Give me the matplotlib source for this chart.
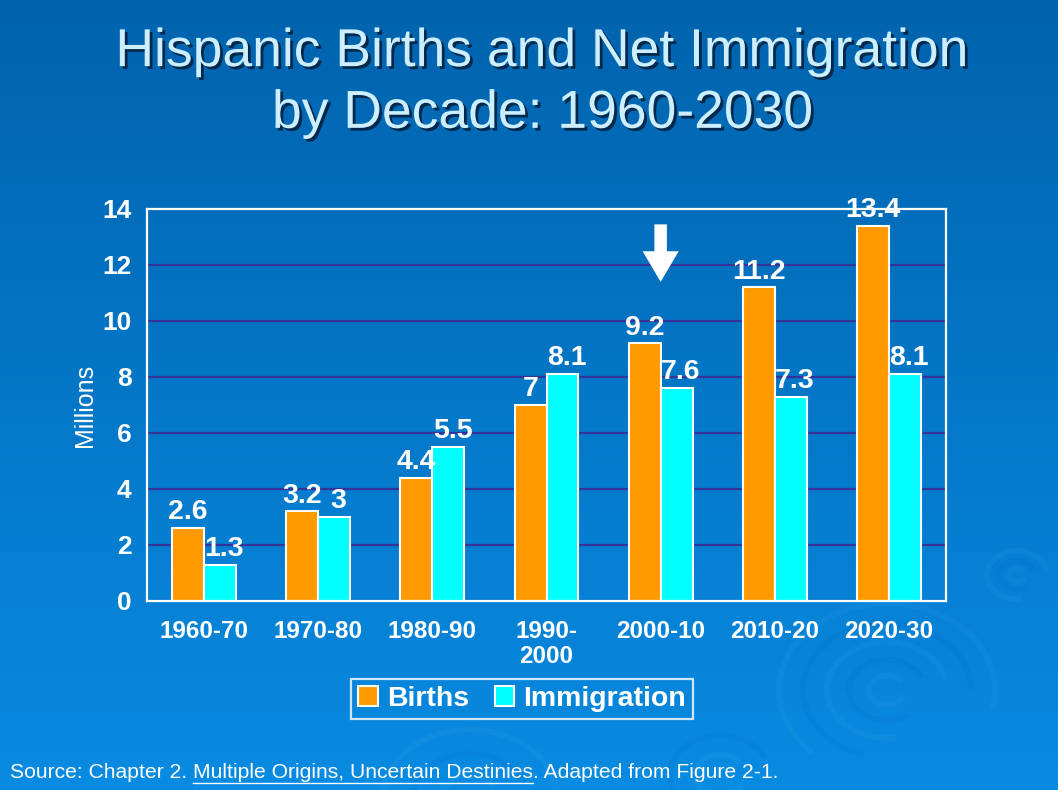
import numpy as np
import matplotlib
matplotlib.use("Agg")
import matplotlib.pyplot as plt
from matplotlib.patches import Arc
from matplotlib.lines import Line2D
import matplotlib.patheffects as pe

# donnees du graphique
decades = ["1960-70", "1970-80", "1980-90", "1990-\n2000", "2000-10", "2010-20", "2020-30"]
births = [2.6, 3.2, 4.4, 7, 9.2, 11.2, 13.4]
immigration = [1.3, 3, 5.5, 8.1, 7.6, 7.3, 8.1]
birth_labels = ["2.6", "3.2", "4.4", "7", "9.2", "11.2", "13.4"]
immig_labels = ["1.3", "3", "5.5", "8.1", "7.6", "7.3", "8.1"]
arrow_decade = 4          # 2000-10
arrow_from, arrow_to = 13.55, 11.3

W, H = 1058, 790
plt.rcParams['font.family'] = ['Liberation Sans', 'DejaVu Sans']

fig = plt.figure(figsize=(W / 100, H / 100), dpi=100)

# fond degradé
bg = fig.add_axes([0, 0, 1, 1], zorder=-10)
top = np.array([0x00, 0x63, 0xAD]) / 255
bot = np.array([0x08, 0x8B, 0xE2]) / 255
t = np.linspace(0, 1, 256)[:, None]
grad = top[None, :] * (1 - t) + bot[None, :] * t
grad = np.repeat(grad[:, None, :], 4, axis=1)
bg.imshow(grad, extent=[0, W, H, 0], aspect='auto')
bg.set_xlim(0, W)
bg.set_ylim(H, 0)
bg.axis('off')

# ondes decoratives (discretes)
ring_col = (0.0, 0.35, 0.75, 0.10)
ring_light = (0.4, 0.75, 1.0, 0.08)
for cx, cy, radii in [(887, 690, [18, 38, 60, 84, 108]),
                      (1017, 575, [8, 18, 30]),
                      (470, 800, [30, 58, 88]),
                      (720, 775, [25, 50])]:
    for i, r in enumerate(radii):
        bg.add_patch(Arc((cx, cy), 2 * r, 1.6 * r, theta1=20 + 30 * i, theta2=330 + 10 * i,
                         color=ring_col if i % 2 else ring_light, lw=4))

# titre
title = fig.text(0.513, 1 - 83 / H, "Hispanic Births and Net Immigration\nby Decade: 1960-2030",
                 ha='center', va='center', fontsize=38.5, color='#CCEEFF', linespacing=1.3)
title.set_path_effects([pe.withSimplePatchShadow(offset=(2, -2), shadow_rgbFace='#001a33', alpha=0.8)])

# graphique
ax = fig.add_axes([147 / W, 1 - 601 / H, (946 - 147) / W, (601 - 209) / H])
ax.patch.set_alpha(0)
x = np.arange(len(decades))
bw = 0.28
ax.bar(x - bw / 2, births, bw, color='#FF9900', edgecolor='white', linewidth=1.5,
       label='Births', zorder=3)
ax.bar(x + bw / 2, immigration, bw, color='#00FFFF', edgecolor='white', linewidth=1.5,
       label='Immigration', zorder=3)

for xi, v, s in zip(x, births, birth_labels):
    ax.annotate(s, (xi - bw / 2, v), xytext=(0, 2), textcoords='offset points',
                ha='center', va='bottom', fontsize=20.5, fontweight='bold', color='white', zorder=5)
for xi, v, s in zip(x, immigration, immig_labels):
    ax.annotate(s, (xi + bw / 2, v), xytext=(3, 2), textcoords='offset points',
                ha='center', va='bottom', fontsize=20.5, fontweight='bold', color='white', zorder=5)

ax.set_xlim(-0.5, len(decades) - 0.5)
ax.set_ylim(0, 14)
ax.set_yticks(range(0, 15, 2))
ax.set_xticks(x)
ax.set_xticklabels(decades, fontsize=17.5, fontweight='bold', color='white', linespacing=1.1)
ax.tick_params(axis='y', labelsize=19, labelcolor='white', length=0, pad=11)
ax.tick_params(axis='x', length=0, pad=14)
for lab in ax.get_yticklabels():
    lab.set_fontweight('bold')
ax.grid(axis='y', color='#333399', linewidth=1.6, zorder=1)
ax.set_axisbelow(True)
for sp in ax.spines.values():
    sp.set_color('white')
    sp.set_linewidth(1.6)
    sp.set_zorder(4)

ax.set_ylabel("Millions", fontsize=18, color='white', labelpad=4)

# fleche
ax.annotate("", xy=(arrow_decade, arrow_to), xytext=(arrow_decade, arrow_from),
            arrowprops=dict(arrowstyle='simple,head_width=1.3,head_length=1.1,tail_width=0.45',
                            color='white', lw=0, mutation_scale=20), zorder=6)

leg = ax.legend(loc='center', bbox_to_anchor=(522 / W, 1 - 699 / H), bbox_transform=fig.transFigure,
                ncol=2, frameon=True, fancybox=False, prop={'weight': 'bold', 'size': 20.5},
                handlelength=0.7, handleheight=0.7, handletextpad=0.3, columnspacing=0.9,
                borderpad=0.25, borderaxespad=0)
leg.get_frame().set_facecolor('none')
leg.get_frame().set_edgecolor('white')
leg.get_frame().set_linewidth(1.6)
for txt in leg.get_texts():
    txt.set_color('white')

# source avec souligne
src_pre = "Source: Chapter 2. "
src_ul = "Multiple Origins, Uncertain Destinies"
src_post = ". Adapted from Figure 2-1."
sx, sy = 10, 773
fs = 15.2
fig.text(sx / W, 1 - sy / H, src_pre + src_ul + src_post, ha='left', va='center',
         fontsize=fs, color='white')
renderer = fig.canvas.get_renderer()


def largeur(s):
    tt = fig.text(0, 0, s, fontsize=fs)
    w = tt.get_window_extent(renderer).width
    tt.remove()
    return w


x0 = sx + largeur(src_pre + "Multiple") - largeur("Multiple")
x1 = sx + largeur(src_pre + src_ul)
uy = sy + 10
fig.add_artist(Line2D([x0 / W, x1 / W], [1 - uy / H, 1 - uy / H], transform=fig.transFigure,
                      color='white', linewidth=1.0))

fig.savefig("out.png", dpi=100)
